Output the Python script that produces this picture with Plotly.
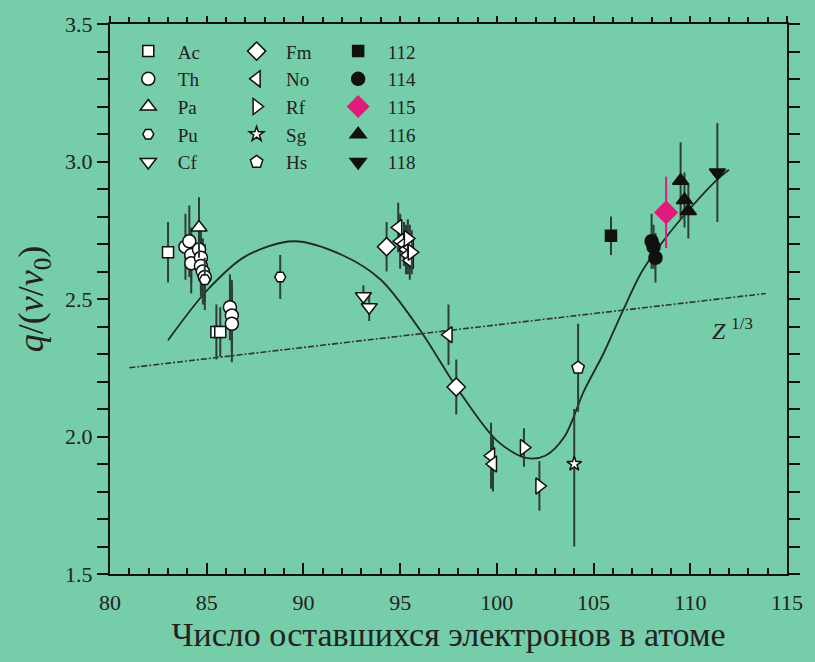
import plotly.graph_objects as go

# ---------------- data ----------------
# fitted curve
CURVE_X = [83.0, 85.0, 87.0, 89.5, 92.0, 94.0, 96.0, 98.0, 100.0, 101.5, 102.5, 103.5,
           104.5, 105.5, 106.5, 107.5, 108.7, 110.0, 111.4, 112.0]
CURVE_Y = [2.35, 2.53, 2.655, 2.71, 2.66, 2.57, 2.39, 2.17, 1.985, 1.922, 1.93, 2.00,
           2.165, 2.30, 2.455, 2.60, 2.72, 2.83, 2.935, 2.97]
# Z^(1/3) reference line
Z13_X = [81.0, 113.9]
Z13_Y = [2.25, 2.52]

AC_X = [83.0, 85.5, 85.7]
AC_Y = [2.67, 2.38, 2.38]
AC_E = [0.11, 0.10, 0.09]

TH_X = [83.9, 84.1, 84.2, 84.2, 84.6, 84.7, 84.7, 84.8, 84.9, 86.2, 86.3, 86.3]
TH_Y = [2.69, 2.71, 2.66, 2.63, 2.68, 2.65, 2.62, 2.60, 2.58, 2.47, 2.44, 2.41]
TH_E = [0.12, 0.13, 0.10, 0.11, 0.10, 0.12, 0.11, 0.12, 0.12, 0.12, 0.13, 0.14]

PA_X = [84.6]
PA_Y = [2.76]
PA_E = [0.11]

PU_X = [84.9, 88.8]
PU_Y = [2.57, 2.58]
PU_E = [0.08, 0.08]

CF_X = [93.1, 93.4]
CF_Y = [2.51, 2.47]
CF_E = [0.04, 0.05]

FM_X = [94.3, 97.9]
FM_Y = [2.69, 2.18]
FM_E = [0.09, 0.10]

NO_X = [94.9, 95.0, 95.2, 95.3, 95.4, 95.5, 95.5, 97.5, 99.7, 99.8]
NO_Y = [2.76, 2.71, 2.70, 2.68, 2.66, 2.69, 2.64, 2.37, 1.93, 1.90]
NO_E = [0.09, 0.10, 0.08, 0.09, 0.07, 0.08, 0.07, 0.11, 0.12, 0.10]

RF_X = [95.4, 95.6, 101.4, 102.2]
RF_Y = [2.72, 2.67, 1.96, 1.82]
RF_E = [0.07, 0.08, 0.07, 0.09]

SG_X = [104.0]
SG_Y = [1.90]
SG_EP = [0.20]
SG_EM = [0.30]

HS_X = [104.2]
HS_Y = [2.25]
HS_E = [0.16]

E112_X = [105.9]
E112_Y = [2.73]
E112_E = [0.07]

E114_X = [108.0, 108.1, 108.2]
E114_Y = [2.71, 2.69, 2.65]
E114_E = [0.10, 0.08, 0.09]

E115_X = [108.75]
E115_Y = [2.815]
E115_E = [0.13]

E116_X = [109.5, 109.7, 109.9]
E116_Y = [2.93, 2.86, 2.82]
E116_E = [0.14, 0.10, 0.10]

E118_X = [111.4]
E118_Y = [2.96]
E118_E = [0.18]

# ---------------- style ----------------
BG = "#76CDA9"
ERR = "#2e3d37"
FONT = "Liberation Serif, Times New Roman, serif"
MAG = "#E3197C"

fig = go.Figure()

fig.add_trace(go.Scatter(x=Z13_X, y=Z13_Y, mode="lines", showlegend=False,
                         line=dict(color="#333333", width=1.6, dash="6px,2px,2px,2px")))
fig.add_trace(go.Scatter(x=CURVE_X, y=CURVE_Y, mode="lines", showlegend=False,
                         line=dict(color="#1e2a25", width=1.8, shape="spline", smoothing=0.9)))

series = [
    ("Ac", AC_X, AC_Y, AC_E, None, "square", 11, "white", "legend"),
    ("Th", TH_X, TH_Y, TH_E, None, "circle", 13, "white", "legend"),
    ("Pa", PA_X, PA_Y, PA_E, None, "triangle-up", 14, "white", "legend"),
    ("Pu", PU_X, PU_Y, PU_E, None, "hexagon2", 11, "white", "legend"),
    ("Cf", CF_X, CF_Y, CF_E, None, "triangle-down", 14, "white", "legend"),
    ("Fm", FM_X, FM_Y, FM_E, None, "diamond", 14, "white", "legend2"),
    ("No", NO_X, NO_Y, NO_E, None, "triangle-left", 14, "white", "legend2"),
    ("Rf", RF_X, RF_Y, RF_E, None, "triangle-right", 14, "white", "legend2"),
    ("Sg", SG_X, SG_Y, SG_EP, SG_EM, "star", 11, "white", "legend2"),
    ("Hs", HS_X, HS_Y, HS_E, None, "pentagon", 13, "white", "legend2"),
    ("112", E112_X, E112_Y, E112_E, None, "square", 11, "#111111", "legend3"),
    ("114", E114_X, E114_Y, E114_E, None, "circle", 13, "#111111", "legend3"),
    ("115", E115_X, E115_Y, E115_E, None, "diamond", 17, MAG, "legend3"),
    ("116", E116_X, E116_Y, E116_E, None, "triangle-up", 14, "#111111", "legend3"),
    ("118", E118_X, E118_Y, E118_E, None, "triangle-down", 14, "#111111", "legend3"),
]

for name, xs, ys, ep, em, sym, size, fill, leg in series:
    ecol = MAG if fill == MAG else ERR
    lcol = MAG if fill == MAG else "#111111"
    err = dict(type="data", array=ep, color=ecol, thickness=2, width=0, visible=True)
    if em is not None:
        err["symmetric"] = False
        err["arrayminus"] = em
    marker = dict(symbol=sym, size=size, color=fill, line=dict(color=lcol, width=1.5))
    fig.add_trace(go.Scatter(x=xs, y=ys, mode="markers", showlegend=False,
                             error_y=err, marker=marker))
    # legend-only entry
    fig.add_trace(go.Scatter(x=[None], y=[None], mode="markers", name="\u2002" + name,
                             marker=marker, legend=leg, showlegend=True))

# invisible trace for top axis
fig.add_trace(go.Scatter(x=[None], y=[None], xaxis="x2", showlegend=False, hoverinfo="skip"))

tickfont = dict(family=FONT, size=22, color="#222222")
legfont = dict(family=FONT, size=19, color="#222222")

def leg(xpos):
    return dict(x=xpos, y=0.985, xanchor="left", yanchor="top", bgcolor="rgba(0,0,0,0)",
                font=legfont, traceorder="normal", itemsizing="trace", tracegroupgap=0)

fig.update_layout(
    width=815, height=662,
    paper_bgcolor=BG, plot_bgcolor=BG,
    margin=dict(l=110, r=22, t=22, b=88),
    font=dict(family=FONT, color="#222222"),
    legend=leg(0.027),
    legend2=leg(0.187),
    legend3=leg(0.337),
    xaxis=dict(range=[80, 115], dtick=5, tick0=80, ticks="inside", ticklen=11, tickwidth=2,
               tickcolor="#111111", showline=True, linecolor="#111111", linewidth=2,
               showgrid=False, zeroline=False, tickfont=tickfont, ticklabelstandoff=8,
               minor=dict(dtick=1, ticks="inside", ticklen=6, tickwidth=1.5, tickcolor="#111111"),
               title=dict(text="Число оставшихся электронов в атоме",
                          font=dict(family=FONT, size=34, color="#222222"), standoff=8)),
    xaxis2=dict(range=[80, 115], overlaying="x", side="top", dtick=5, tick0=80, ticks="outside",
                ticklen=6, tickwidth=2, tickcolor="#111111", showline=True, linecolor="#111111",
                linewidth=2, showgrid=False, zeroline=False, showticklabels=False,
                minor=dict(dtick=1, ticks="outside", ticklen=5, tickwidth=1.5, tickcolor="#111111")),
    yaxis=dict(range=[1.5, 3.5], dtick=0.5, tick0=1.5, tickformat=".1f", ticks="outside",
               ticklen=11, tickwidth=2, tickcolor="#111111", showline=True, linecolor="#111111",
               linewidth=2, mirror="allticks", showgrid=False, zeroline=False, tickfont=tickfont,
               minor=dict(dtick=0.1, ticks="outside", ticklen=6, tickwidth=1.5, tickcolor="#111111"),
               title=dict(text="<i>q</i>/(<i>v</i>/<i>v</i><sub>0</sub>)",
                          font=dict(family=FONT, size=36, color="#222222"), standoff=10)),
    annotations=[dict(x=112.2, y=2.39, xref="x", yref="y", showarrow=False,
                      text="<i>Z</i> <sup>1/3</sup>",
                      font=dict(family=FONT, size=24, color="#222222"))],
)

fig.write_html("out.html")
